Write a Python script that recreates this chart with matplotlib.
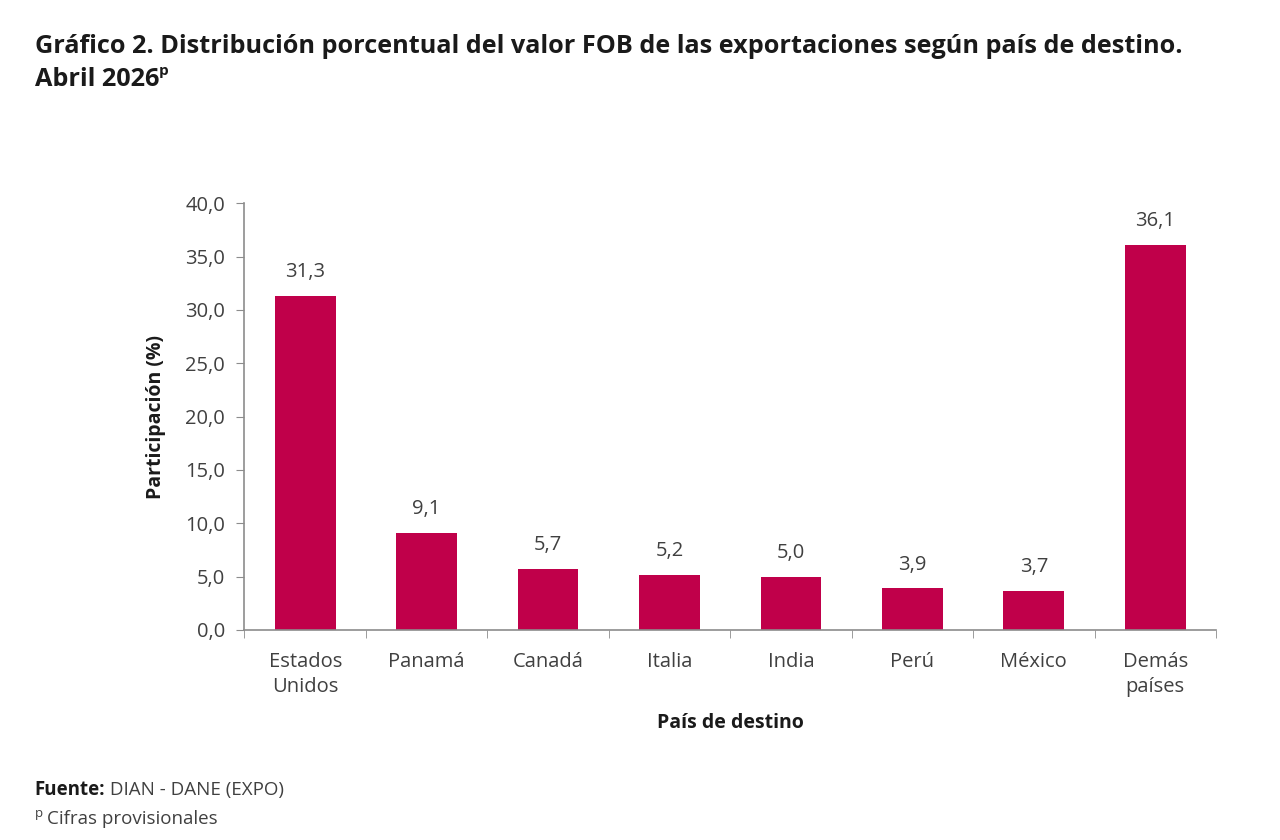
import matplotlib
matplotlib.use('Agg')
from matplotlib import pyplot as plt

plt.rcParams['font.family'] = ['Open Sans', 'DejaVu Sans']

paises = ['Estados\nUnidos', 'Panamá', 'Canadá', 'Italia', 'India', 'Perú', 'México', 'Demás\npaíses']
participacion = [31.3, 9.1, 5.7, 5.2, 5.0, 3.9, 3.7, 36.1]

color_barra = '#C0004A'
gris = '#404040'
fs = 14.5

fig = plt.figure(figsize=(12.8, 8.4), dpi=100)
ax = fig.add_axes([0.191, 0.25, 0.759, 0.508])

x = range(len(paises))
ax.bar(x, participacion, width=0.5, color=color_barra)

for i, v in zip(x, participacion):
    ax.text(i, v + 1.3, f'{v:.1f}'.replace('.', ','), ha='center', va='bottom',
            fontsize=fs, color=gris)

ax.set_xlim(-0.5, len(paises) - 0.5)
ax.set_ylim(0, 40)
ax.set_yticks(range(0, 41, 5))
ax.set_yticklabels([f'{t:.1f}'.replace('.', ',') for t in range(0, 41, 5)], fontsize=fs, color=gris)
ax.set_xticks(list(x))
ax.set_xticklabels(paises, fontsize=fs, color=gris, linespacing=1.3)
ax.set_xticks([i + 0.5 for i in range(-1, len(paises))], minor=True)
ax.tick_params(axis='x', which='major', length=0, pad=16)
ax.tick_params(axis='x', which='minor', length=6, color='#8c8c8c', direction='out')
ax.tick_params(axis='y', length=6, color='#8c8c8c', direction='out', pad=8)

for lado in ['top', 'right']:
    ax.spines[lado].set_visible(False)
for lado in ['left', 'bottom']:
    ax.spines[lado].set_color('#8c8c8c')
    ax.spines[lado].set_linewidth(1.2)

ax.set_ylabel('Participación (%)', fontsize=14, fontweight='bold', color='#1a1a1a', labelpad=14)
ax.set_xlabel('País de destino', fontsize=14, fontweight='bold', color='#1a1a1a', labelpad=12)

# titulo
fig.text(0.027, 0.945, 'Gráfico 2. Distribución porcentual del valor FOB de las exportaciones según país de destino.',
         fontsize=18.2, fontweight='bold', color='#1a1a1a', va='center')
abril = fig.text(0.027, 0.905, 'Abril 2026', fontsize=18.2, fontweight='bold', color='#1a1a1a', va='center')
ax.annotate('p', xy=(1.0, 0.58), xycoords=abril, fontsize=11, fontweight='bold',
            color='#1a1a1a', ha='left', va='bottom', annotation_clip=False)

# notas
fuente = fig.text(0.027, 0.059, 'Fuente:', fontsize=13.5, fontweight='bold', color='#1a1a1a', va='center')
ax.annotate(' DIAN - DANE (EXPO)', xy=(1.0, 0.5), xycoords=fuente, fontsize=13.5, color=gris,
            ha='left', va='center', annotation_clip=False)
fig.text(0.027, 0.031, 'p', fontsize=9.5, color=gris, va='center')
fig.text(0.037, 0.025, 'Cifras provisionales', fontsize=13.5, color=gris, va='center')

fig.savefig('out.png', dpi=100, facecolor='white')
